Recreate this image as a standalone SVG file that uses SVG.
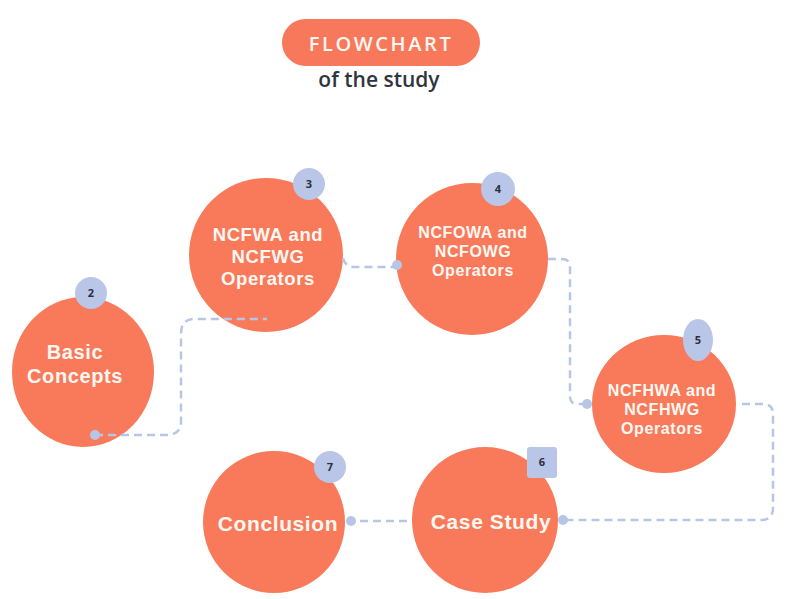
<svg xmlns="http://www.w3.org/2000/svg" width="795" height="599" viewBox="0 0 795 599">
<style>
.node{fill:#F87A5B}
.badge{fill:#B9C6E8}
.lbl{font-family:"Liberation Sans",Arial,sans-serif;font-weight:700;fill:#FFF8F2;text-anchor:middle;letter-spacing:0.6px}
.sm{font-size:16px}
.num{font-family:"Open Sans","Noto Sans",sans-serif;font-weight:700;font-size:11px;fill:#2B2F3A;text-anchor:middle}
.conn{fill:none;stroke:#B8C6E6;stroke-width:2.5;stroke-dasharray:8 5}
.dot{fill:#B8C6E6}
</style>
<rect width="795" height="599" fill="#FFFFFF"/>
<g id="title">
<rect x="282" y="19" width="198" height="47" rx="23.5" fill="#F7785A"/>
<text x="381" y="51" font-family="Open Sans, Noto Sans, sans-serif" font-weight="600" font-size="20" letter-spacing="2.6" fill="#FFF8F2" text-anchor="middle">FLOWCHART</text>
<text x="379" y="87" font-family="Open Sans, Noto Sans, sans-serif" font-weight="600" font-size="21" fill="#2F3540" text-anchor="middle">of the study</text>
</g>
<g id="node2">
<ellipse class="node" cx="83" cy="372" rx="71" ry="75"/>
<circle class="badge" cx="91" cy="293" r="16"/>
<text class="num" x="91" y="297">2</text>
<text class="lbl" font-size="20"><tspan x="75" y="359">Basic</tspan><tspan x="75" y="383">Concepts</tspan></text>
</g>
<g id="node3">
<circle class="node" cx="266" cy="255" r="77"/>
<circle class="badge" cx="309" cy="184" r="16"/>
<text class="num" x="309" y="188">3</text>
<text class="lbl" font-size="18.5"><tspan x="268" y="241">NCFWA and</tspan><tspan x="268" y="263">NCFWG</tspan><tspan x="268" y="285">Operators</tspan></text>
</g>
<g id="node4">
<circle class="node" cx="472" cy="259" r="76"/>
<circle class="badge" cx="498" cy="189" r="17"/>
<text class="num" x="498" y="193">4</text>
<text class="lbl sm"><tspan x="473" y="238">NCFOWA and</tspan><tspan x="473" y="257">NCFOWG</tspan><tspan x="473" y="276">Operators</tspan></text>
</g>
<g id="node5">
<ellipse class="node" cx="664" cy="404" rx="72" ry="69"/>
<ellipse class="badge" cx="698" cy="340" rx="15" ry="21"/>
<text class="num" x="698" y="344">5</text>
<text class="lbl sm"><tspan x="662" y="396">NCFHWA and</tspan><tspan x="662" y="415">NCFHWG</tspan><tspan x="662" y="434">Operators</tspan></text>
</g>
<g id="node6">
<ellipse class="node" cx="485" cy="520" rx="73" ry="73"/>
<rect class="badge" x="527" y="447" width="30" height="31" rx="3"/>
<text class="num" x="542" y="466">6</text>
<text class="lbl" font-size="21" x="491" y="529">Case Study</text>
</g>
<g id="node7">
<ellipse class="node" cx="274" cy="522" rx="71" ry="71"/>
<circle class="badge" cx="330" cy="467" r="16"/>
<text class="num" x="330" y="471">7</text>
<text class="lbl" font-size="21" x="278" y="531">Conclusion</text>
</g>
<g id="connectors">
<path class="conn" d="M95,435 H167 Q181,435 181,421 V333 Q181,319 195,319 H267"/>
<path class="conn" d="M343,258 Q345,267 354,267 H397"/>
<path class="conn" d="M548,259 H562 Q570,259 570,267 V396 Q570,404 578,404 H587"/>
<path class="conn" d="M742,404 H763 Q773,404 773,414 V508 Q773,520 761,520 H563"/>
<path class="conn" d="M407,521 H352"/>
<circle class="dot" cx="95" cy="435" r="5"/>
<circle class="dot" cx="397" cy="265" r="5"/>
<circle class="dot" cx="587" cy="404" r="5"/>
<circle class="dot" cx="563" cy="520" r="5"/>
<circle class="dot" cx="351" cy="521" r="5"/>
</g>
</svg>
